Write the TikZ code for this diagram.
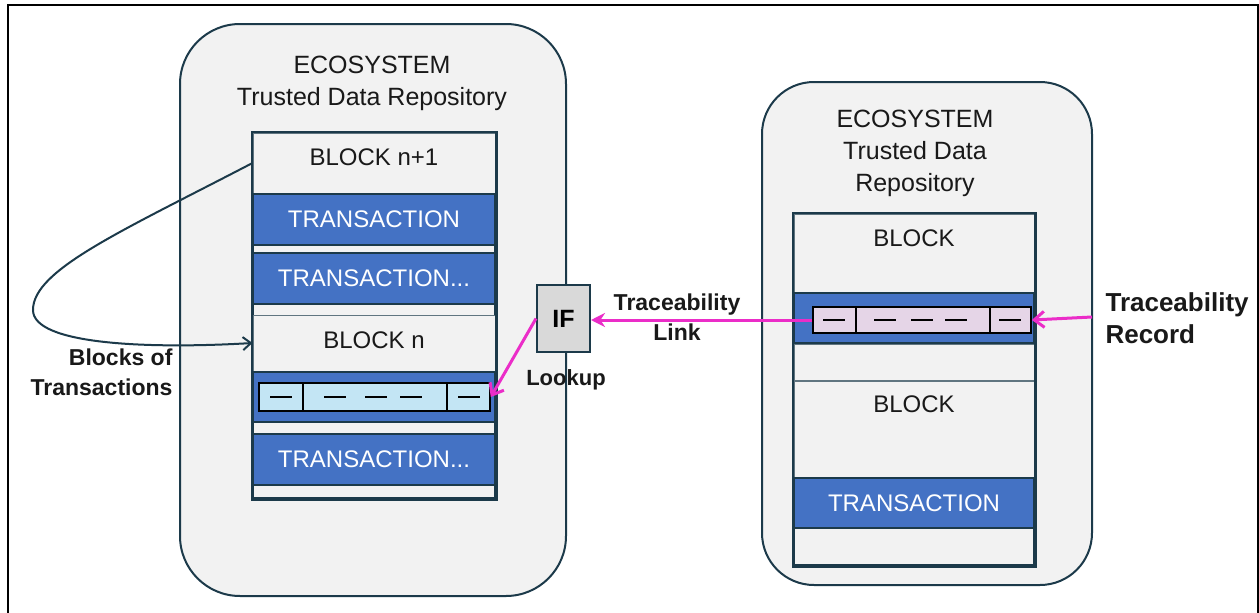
\documentclass[tikz,border=0pt]{standalone}
\usepackage{fontspec}
\setmainfont{Liberation Sans}
\usetikzlibrary{arrows.meta}
\definecolor{navy}{HTML}{1C3A4A}
\definecolor{txblue}{HTML}{4472C4}
\definecolor{bgray}{HTML}{F2F2F2}
\definecolor{mag}{HTML}{EB2DC8}
\definecolor{recblue}{HTML}{C3E5F4}
\definecolor{recpink}{HTML}{E5D5E7}
\definecolor{ifgray}{HTML}{D9D9D9}
\begin{document}
\begin{tikzpicture}[x=1pt,y=-1pt,
  eco/.style={draw=navy, line width=2pt, fill=bgray, inner sep=0pt},
  stackouter/.style={draw=navy, line width=2.5pt, fill=bgray, inner sep=0pt, minimum width=242pt},
  piece/.style={draw=navy!70, line width=1pt, fill=bgray, inner sep=0pt},
  txbox/.style={draw=navy, line width=1.6pt, fill=txblue, text=white, inner sep=0pt,
     font=\fontsize{24}{28}\selectfont},
  seg/.style={draw=black, line width=1.6pt, inner sep=0pt},
  dashmark/.style={black, line width=2pt},
  heading/.style={align=center, font=\fontsize{25}{32}\selectfont, text=black!90},
  blocktext/.style={font=\fontsize{24}{28}\selectfont, text=black!90},
  boldlbl/.style={font=\bfseries\fontsize{23}{30}\selectfont, text=black!90},
  magarrow/.style={mag, line width=3pt},
]
\useasboundingbox (0,0) rectangle (1259,613);
\fill[white] (0,0) rectangle (1259,613);
% outer frame
\draw[black, line width=2.5pt] (8,640) -- (8,5) -- (1258,5) -- (1258,640);

% ecosystems
\node[eco, rounded corners=60pt, minimum width=386pt, minimum height=572pt] (ecoL) at (373,310) {};
\node[eco, rounded corners=52pt, minimum width=330pt, minimum height=503pt] (ecoR) at (927,333.5) {};

\node[heading] (hL) at (372,83) {ECOSYSTEM\\Trusted Data Repository};
\node[heading] (hR) at (915,153) {ECOSYSTEM\\Trusted Data\\Repository};

% left stack
\node[stackouter, minimum height=365pt] (stackL) at (374,315.5) {};
\node[piece, minimum width=242pt, minimum height=60pt] (blk1) at (374,163) {};
\node[blocktext] (blk1t) at (374,157) {BLOCK n+1};
\node[txbox, minimum width=242pt, minimum height=51pt] (tx1) at (374,219.5) {TRANSACTION};
\node[txbox, minimum width=242pt, minimum height=51pt] (tx2) at (374,278.5) {TRANSACTION...};
\node[piece, minimum width=242pt, minimum height=56pt] (blkn) at (374,343) {};
\node[blocktext] (blknt) at (374,340) {BLOCK n};
\node[txbox, minimum width=242pt, minimum height=50pt] (band1) at (374,397) {};
\node[seg, fill=recblue, minimum width=44pt, minimum height=28pt] (r1a) at (281,397) {};
\node[seg, fill=recblue, minimum width=144pt, minimum height=28pt] (r1b) at (375,397) {};
\node[seg, fill=recblue, minimum width=43pt, minimum height=28pt] (r1c) at (468.5,397) {};
\draw[dashmark] (270,397) -- (292,397);
\draw[dashmark] (324,397) -- (346,397);
\draw[dashmark] (365,397) -- (387,397);
\draw[dashmark] (400,397) -- (422,397);
\draw[dashmark] (458,397) -- (480,397);
\node[txbox, minimum width=242pt, minimum height=51pt] (tx3) at (374,459.5) {TRANSACTION...};
\draw[stackouter, fill=none] (stackL.north west) rectangle (stackL.south east);

% right stack
\node[stackouter, minimum width=240pt, minimum height=351pt] (stackR) at (914,389.5) {};
\node[piece, minimum width=240pt, minimum height=78pt] (blkA) at (914,253) {};
\node[blocktext] (blkAt) at (914,238) {BLOCK};
\node[txbox, minimum width=240pt, minimum height=50pt] (band2) at (914,318) {};
\node[seg, fill=recpink, minimum width=43pt, minimum height=26pt] (r2a) at (834.5,320) {};
\node[seg, fill=recpink, minimum width=134pt, minimum height=26pt] (r2b) at (923,320) {};
\node[seg, fill=recpink, minimum width=41pt, minimum height=26pt] (r2c) at (1010.5,320) {};
\draw[dashmark] (823,320) -- (845,320);
\draw[dashmark] (874,320) -- (896,320);
\draw[dashmark] (911,320) -- (933,320);
\draw[dashmark] (945,320) -- (967,320);
\draw[dashmark] (999,320) -- (1021,320);
\node[piece, minimum width=240pt, minimum height=36pt] (gapR) at (914,362) {};
\node[piece, minimum width=240pt, minimum height=97pt] (blkB) at (914,429.5) {};
\node[blocktext] (blkBt) at (914,404) {BLOCK};
\node[txbox, minimum width=240pt, minimum height=50pt] (txR) at (914,503) {TRANSACTION};
\draw[stackouter, fill=none] (stackR.north west) rectangle (stackR.south east);

% IF box
\node[draw=navy, line width=2pt, fill=ifgray, minimum width=53pt, minimum height=67pt,
      inner sep=0pt, font=\bfseries\fontsize{25}{28}\selectfont] (IF) at (563.5,318.5) {IF};
\node[font=\bfseries\fontsize{22}{28}\selectfont, text=black!90] (lookup) at (566,380) {Lookup};

% labels
\node[boldlbl, align=center] (tlink) at (677,317) {Traceability\\Link};
\node[font=\bfseries\fontsize{26}{32}\selectfont, align=left, anchor=west, text=black!90] (trec) at (1102,318) {Traceability\\Record};
\node[boldlbl, align=right, anchor=east] (bot) at (176,372) {Blocks of\\Transactions};

% connectors
\coordinate (recsrc) at (1092,317);
\draw[magarrow, -{Straight Barb[length=10pt,width=16pt]}] (recsrc) -- (r2c.east);
\draw[magarrow, -{Stealth[length=14pt,width=14pt]}] (r2a.west) -- (IF.east |- r2a.west);
\draw[magarrow, -{Straight Barb[length=10pt,width=16pt]}] (IF.west) -- (r1c.east);
\draw[navy, line width=2pt, -{Straight Barb[length=8pt,width=13pt]}]
  (blk1.west) .. controls (120,232) and (33,270) .. (33,310)
  .. controls (33,345) and (150,349) .. (blkn.west);
\end{tikzpicture}
\end{document}
